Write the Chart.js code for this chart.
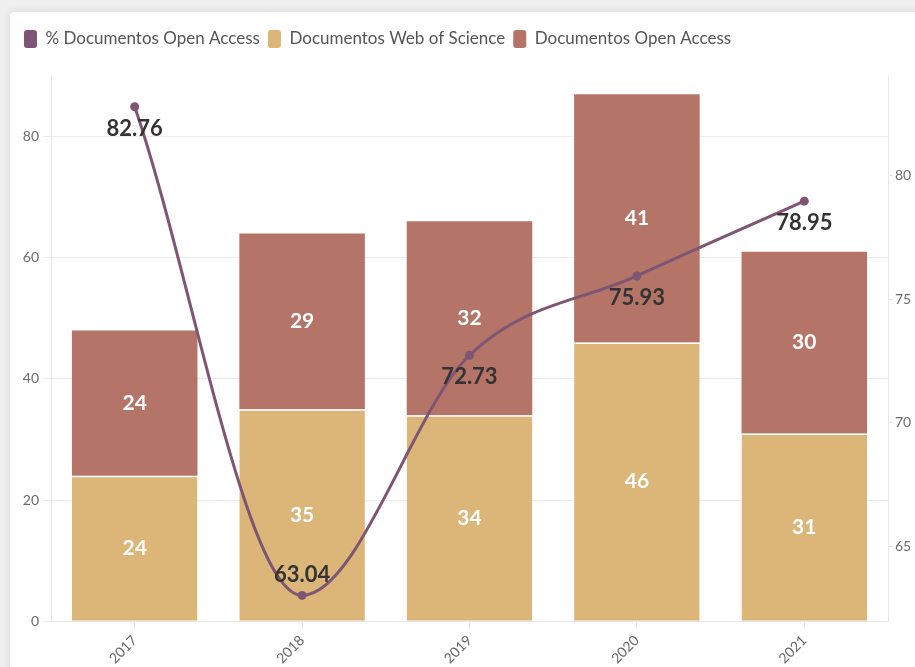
<!DOCTYPE html>
<html>
<head>
<meta charset="utf-8">
<script src="https://cdn.jsdelivr.net/npm/chart.js@4"></script>
<style>
  html, body { margin: 0; padding: 0; background: #efefef; overflow: hidden; width: 915px; height: 667px; }
  #card { position: absolute; left: 10px; top: 12px; width: 940px; height: 700px; background: #fff; border-radius: 4px; box-shadow: 0 0 10px rgba(0,0,0,0.10); }
  #chart { position: absolute; left: 0; top: 0; }
</style>
</head>
<body>
<div id="card"><canvas id="chart" width="914" height="664"></canvas></div>
<script>
// --- DATA ---
const years = ['2017', '2018', '2019', '2020', '2021'];
const docsWebOfScience = [24, 35, 34, 46, 31];
const docsOpenAccess = [24, 29, 32, 41, 30];
const pctOpenAccess = [82.76, 63.04, 72.73, 75.93, 78.95];
const leftTicks = [0, 20, 40, 60, 80];
const rightTicks = [65, 70, 75, 80];

const COLOR_PCT = '#7e5573';
const COLOR_WOS = '#dbb678';
const COLOR_OA = '#b47468';

Chart.defaults.font.family = 'Lato';

// adds a gap under the legend
const legendGap = {
    id: 'legendGap',
    beforeInit(chart) {
        const fit = chart.legend.fit;
        chart.legend.fit = function () {
            fit.bind(chart.legend)();
            this.height += 18;
        };
    }
};

// value labels for bars (white, centered) and line points (dark, under the point)
const valueLabels = {
    id: 'valueLabels',
    afterDatasetsDraw(chart) {
        const ctx = chart.ctx;
        const area = chart.chartArea;
        ctx.save();
        ctx.textAlign = 'center';
        ctx.textBaseline = 'middle';
        chart.data.datasets.forEach((ds, i) => {
            const meta = chart.getDatasetMeta(i);
            meta.data.forEach((el, j) => {
                if (ds.type === 'line') {
                    let y = el.y + 22;
                    if (y + 14 > area.bottom) y = el.y - 20;
                    ctx.font = 'bold 22px Lato';
                    ctx.fillStyle = '#333';
                    ctx.fillText(ds.data[j].toFixed(2), el.x, y);
                } else {
                    ctx.font = 'bold 21px Lato';
                    ctx.fillStyle = '#fff';
                    ctx.fillText(ds.data[j], el.x, (el.y + el.base) / 2);
                }
            });
        });
        ctx.restore();
    }
};

new Chart(document.getElementById('chart'), {
    data: {
        labels: years,
        datasets: [
            {
                type: 'line',
                label: '% Documentos Open Access',
                data: pctOpenAccess,
                yAxisID: 'y1',
                order: 0,
                borderColor: COLOR_PCT,
                backgroundColor: COLOR_PCT,
                borderWidth: 3,
                pointRadius: 4.5,
                pointBackgroundColor: COLOR_PCT,
                pointBorderWidth: 0,
                cubicInterpolationMode: 'monotone'
            },
            {
                type: 'bar',
                label: 'Documentos Web of Science',
                data: docsWebOfScience,
                yAxisID: 'y',
                order: 1,
                backgroundColor: COLOR_WOS,
                borderColor: '#fff',
                borderWidth: { top: 1.5, left: 0, right: 0, bottom: 0 },
                borderSkipped: false,
                barPercentage: 0.75,
                categoryPercentage: 1
            },
            {
                type: 'bar',
                label: 'Documentos Open Access',
                data: docsOpenAccess,
                yAxisID: 'y',
                order: 2,
                backgroundColor: COLOR_OA,
                barPercentage: 0.75,
                categoryPercentage: 1
            }
        ]
    },
    options: {
        responsive: false,
        animation: false,
        layout: { padding: { left: 6, right: 0, top: 10, bottom: 6 } },
        plugins: {
            tooltip: { enabled: false },
            legend: {
                position: 'top',
                align: 'start',
                labels: {
                    boxWidth: 13,
                    boxHeight: 18,
                    useBorderRadius: true,
                    borderRadius: 3,
                    color: '#555',
                    padding: 8,
                    font: { size: 17 },
                    generateLabels(chart) {
                        const items = Chart.defaults.plugins.legend.labels.generateLabels(chart);
                        items.forEach(it => { it.lineWidth = 0; });
                        return items;
                    }
                }
            }
        },
        scales: {
            x: {
                stacked: true,
                grid: { offset: false, drawOnChartArea: false, tickLength: 8, color: '#e8e8e8' },
                border: { color: '#e8e8e8' },
                ticks: { minRotation: 45, maxRotation: 45, color: '#666', font: { size: 14 } }
            },
            y: {
                stacked: true,
                min: 0,
                max: 90,
                afterBuildTicks(axis) { axis.ticks = leftTicks.map(v => ({ value: v })); },
                afterFit(axis) { axis.width = 35; },
                grid: { color: '#ececec', tickLength: 8 },
                border: { color: '#e8e8e8' },
                ticks: { color: '#6b6b6b', font: { size: 14 }, padding: 4 }
            },
            y1: {
                position: 'right',
                min: 62,
                max: 84,
                afterBuildTicks(axis) { axis.ticks = rightTicks.map(v => ({ value: v })); },
                afterFit(axis) { axis.width = 36; },
                grid: { drawOnChartArea: false, tickLength: 5, color: '#e8e8e8' },
                border: { color: '#e8e8e8' },
                ticks: { color: '#6b6b6b', font: { size: 14 }, padding: 2 }
            }
        }
    },
    plugins: [legendGap, valueLabels]
});
</script>
</body>
</html>
